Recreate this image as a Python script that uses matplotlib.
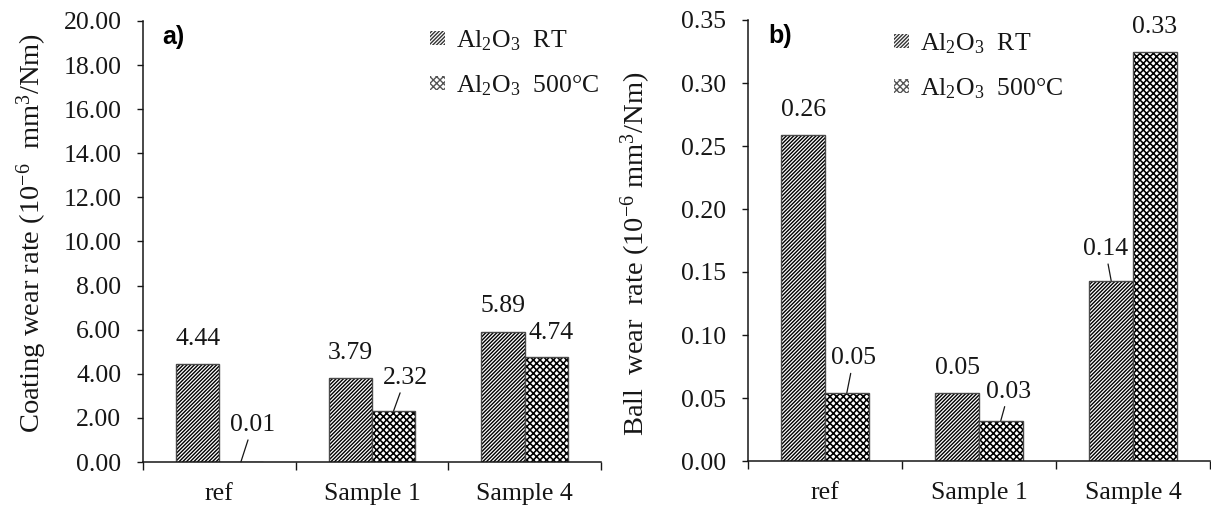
import numpy as np
import matplotlib
matplotlib.use('Agg')
import matplotlib.pyplot as plt
from matplotlib.patches import Patch

# Wear rates per sample, counterpart Al2O3 at room temperature and at 500 °C
samples = ['ref', 'Sample 1', 'Sample 4']
coating_rt = [4.44, 3.79, 5.89]
coating_500 = [0.01, 2.32, 4.74]
ball_rt = [0.259, 0.054, 0.143]
ball_500 = [0.054, 0.032, 0.325]

coating_ticks = np.arange(0, 20.01, 2.0)
ball_ticks = np.arange(0, 0.3501, 0.05)

# label centre offsets (points) from the bar top: RT bars, then 500 °C bars
coating_offsets = [[(0, 18), (0, 18.5), (0, 18.5)], [(8.6, 26.6), (8.6, 23.8), (3.6, 17.5)]]
coating_leaders = [[False, False, False], [True, True, False]]
ball_offsets = [[(0, 18), (0, 18), (-4.3, 23)], [(5, 25), (5.8, 21), (0, 18)]]
ball_leaders = [[False, False, True], [True, True, False]]

plt.rcParams['font.family'] = 'Liberation Serif'
plt.rcParams['mathtext.fontset'] = 'custom'
plt.rcParams['mathtext.rm'] = 'Liberation Serif'
plt.rcParams['mathtext.it'] = 'Liberation Serif:italic'
plt.rcParams['mathtext.bf'] = 'Liberation Serif:bold'
plt.rcParams['hatch.linewidth'] = 1.0

FS = 18.5
INK = '#161616'
W = 0.283
HATCH_RT = '/' * 9
HATCH_HOT = 'x' * 5

fig = plt.figure(figsize=(12.11, 5.11), dpi=100)
FW, FH = 1211, 511
ax1 = fig.add_axes([143 / FW, 49 / FH, 458 / FW, 441 / FH])
ax2 = fig.add_axes([748 / FW, 50 / FH, 462 / FW, 441 / FH])


def draw_panel(ax, rt, hot, ticks, xmax, ylabel, label_y, tag, offsets, leaders):
    x = np.arange(len(samples))
    groups = [(x - W / 2, rt, HATCH_RT, 1.0), (x + W / 2, hot, HATCH_HOT, 1.15)]
    for gi, (xs, vals, hatch, hlw) in enumerate(groups):
        with plt.rc_context({'hatch.linewidth': hlw}):
            ax.bar(xs, vals, W, color='white', edgecolor='black', hatch=hatch, linewidth=0)
        ax.bar(xs, vals, W, fill=False, edgecolor='#4a4a4a', linewidth=1.0)
        for i, (xi, v) in enumerate(zip(xs, vals)):
            arrow = None
            if leaders[gi][i]:
                arrow = dict(arrowstyle='-', color=INK, lw=0.9, shrinkA=1, shrinkB=0)
            ax.annotate('%.2f' % v, xy=(xi, v), xytext=offsets[gi][i],
                        textcoords='offset points', ha='center', va='center',
                        fontsize=FS, color=INK, arrowprops=arrow)

    ax.set_xlim(-0.5, xmax)
    ax.set_ylim(ticks[0], ticks[-1])
    ax.set_yticks(ticks)
    ax.set_yticklabels(['%.2f' % t for t in ticks])
    ax.set_xticks(x)
    ax.set_xticklabels(samples)
    ax.set_xticks(np.arange(-0.5, len(samples), 1.0), minor=True)

    for side in ('top', 'right'):
        ax.spines[side].set_visible(False)
    for side in ('left', 'bottom'):
        ax.spines[side].set_color(INK)
        ax.spines[side].set_linewidth(1.1)

    ax.tick_params(axis='y', direction='out', length=4.5, width=1.0, colors=INK,
                   labelsize=FS, pad=11)
    ax.tick_params(axis='x', which='major', length=0, labelsize=FS, colors=INK, pad=15)
    ax.tick_params(axis='x', which='minor', direction='out', length=5.5, width=1.0,
                   colors=INK)

    ax.set_ylabel(ylabel, fontsize=20.5, color=INK)
    ax.yaxis.set_label_coords(-0.205, label_y)
    ax.text(0.043, 0.99, tag, transform=ax.transAxes, fontsize=18, fontweight='bold',
            family='Liberation Sans', ha='left', va='top', color='black')


draw_panel(ax1, coating_rt, coating_500, coating_ticks, 2.4,
           r'Coating wear rate (10$^{-6}$  mm$^{3}$/Nm)', 0.52, 'a)',
           coating_offsets, coating_leaders)
draw_panel(ax2, ball_rt, ball_500, ball_ticks, 2.47,
           r'Ball  wear  rate (10$^{-6}$ mm$^{3}$/Nm)', 0.47, 'b)',
           ball_offsets, ball_leaders)

handles = [Patch(facecolor='white', edgecolor='#333333', hatch=HATCH_RT, linewidth=0),
           Patch(facecolor='white', edgecolor='#555555', hatch=HATCH_HOT, linewidth=0)]
labels = [r'Al$_2$O$_3$  RT', r'Al$_2$O$_3$  500°C']
for ax, (lx, ly) in ((ax1, (430, 28)), (ax2, (894, 31))):
    ax.legend(handles, labels, loc='upper left', bbox_to_anchor=(lx / FW, 1 - ly / FH),
              bbox_transform=fig.transFigure, frameon=False, fontsize=FS,
              handlelength=0.6, handleheight=0.5, handletextpad=0.4,
              labelspacing=0.8, borderpad=0, borderaxespad=0, labelcolor=INK)

fig.savefig('out.png', dpi=100)
